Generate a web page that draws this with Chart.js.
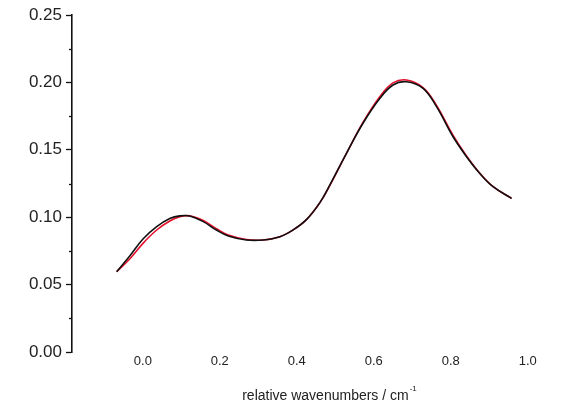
<!DOCTYPE html>
<html>
<head>
<meta charset="utf-8">
<script src="https://cdn.jsdelivr.net/npm/chart.js@4/dist/chart.umd.min.js"></script>
<style>
html,body{margin:0;padding:0;background:#fff;}
#wrap{width:563px;height:405px;position:relative;}
</style>
</head>
<body>
<div id="wrap"><canvas id="c" width="563" height="405"></canvas></div>
<script>
const waveX = [-0.068,-0.034,0.001,0.036,0.070,0.096,0.122,0.157,0.191,0.222,0.269,0.3125,0.356,0.390,0.425,0.460,0.486,0.529,0.572,0.616,0.650,0.685,0.728,0.763,0.806,0.841,0.875,0.910,0.958];
const blackY = [0.0596,0.0712,0.0840,0.0930,0.0990,0.1010,0.1009,0.0967,0.0905,0.0861,0.0831,0.0831,0.0855,0.0905,0.0982,0.1108,0.1240,0.1474,0.1697,0.1882,0.1981,0.2005,0.1956,0.1820,0.1597,0.1449,0.1326,0.1226,0.1140];
const redY = [0.0596,0.0690,0.0808,0.0905,0.0972,0.1003,0.1010,0.0975,0.0915,0.0868,0.0835,0.0831,0.0855,0.0905,0.0982,0.1108,0.1236,0.1473,0.1703,0.1895,0.1996,0.2018,0.1962,0.1829,0.1606,0.1454,0.1328,0.1227,0.1140];
const xTickValues = [0.0,0.2,0.4,0.6,0.8,1.0];
const yTickValues = [0.00,0.05,0.10,0.15,0.20,0.25];
const yMinorValues = [0.025,0.075,0.125,0.175,0.225];
const xTitle = "relative wavenumbers / cm";
const xTitleSup = "-1";

const toPts = (xs, ys) => xs.map((x, i) => ({x: x, y: ys[i]}));

const extras = {
  id: 'extras',
  afterDraw(chart) {
    const ctx = chart.ctx;
    const ys = chart.scales.y;
    ctx.save();
    ctx.strokeStyle = '#111';
    ctx.lineWidth = 1.3;
    yMinorValues.forEach(v => {
      const py = Math.round(ys.getPixelForValue(v)) + 0.5;
      ctx.beginPath();
      ctx.moveTo(ys.right - 3, py);
      ctx.lineTo(ys.right, py);
      ctx.stroke();
    });
    ctx.fillStyle = '#222';
    ctx.textBaseline = 'alphabetic';
    ctx.font = '14px "Liberation Sans", Arial, sans-serif';
    const w = ctx.measureText(xTitle).width;
    ctx.font = '8px "Liberation Sans", Arial, sans-serif';
    const ws = ctx.measureText(xTitleSup).width;
    const x0 = 329 - (w + ws) / 2;
    ctx.font = '14px "Liberation Sans", Arial, sans-serif';
    ctx.fillText(xTitle, x0, 400);
    ctx.font = '8px "Liberation Sans", Arial, sans-serif';
    ctx.fillText(xTitleSup, x0 + w + 1, 391);
    ctx.restore();
  }
};

new Chart(document.getElementById('c'), {
  type: 'scatter',
  data: {
    datasets: [
      {
        data: toPts(waveX, blackY),
        borderColor: '#111111',
        borderWidth: 1.6,
        showLine: true,
        pointRadius: 0,
        tension: 0.4,
        order: 1
      },
      {
        data: toPts(waveX, redY),
        borderColor: '#e3102b',
        borderWidth: 1.6,
        showLine: true,
        pointRadius: 0,
        tension: 0.4,
        order: 2
      }
    ]
  },
  plugins: [extras],
  options: {
    responsive: false,
    animation: false,
    devicePixelRatio: 1,
    layout: { padding: { left: 0, top: 15, right: 16, bottom: 0 } },
    plugins: { legend: { display: false }, tooltip: { enabled: false } },
    scales: {
      x: {
        type: 'linear',
        min: -0.184,
        max: 1.05,
        afterBuildTicks: s => { s.ticks = xTickValues.map(v => ({value: v})); },
        afterFit: s => { s.height = 53; },
        border: { display: false },
        grid: { display: false, drawTicks: false },
        ticks: {
          padding: 2,
          color: '#222',
          font: { family: '"Liberation Sans", Arial, sans-serif', size: 13 },
          callback: v => v.toFixed(1)
        }
      },
      y: {
        type: 'linear',
        min: 0,
        max: 0.25,
        afterBuildTicks: s => { s.ticks = yTickValues.map(v => ({value: v})); },
        afterFit: s => { s.width = 72; },
        border: { display: true, color: '#111', width: 1.6 },
        grid: { drawOnChartArea: false, drawTicks: true, tickLength: 6, tickColor: '#111', tickWidth: 1.3 },
        ticks: {
          padding: 4,
          color: '#222',
          font: { family: '"Liberation Sans", Arial, sans-serif', size: 17 },
          callback: v => v.toFixed(2)
        }
      }
    }
  }
});
</script>
</body>
</html>
